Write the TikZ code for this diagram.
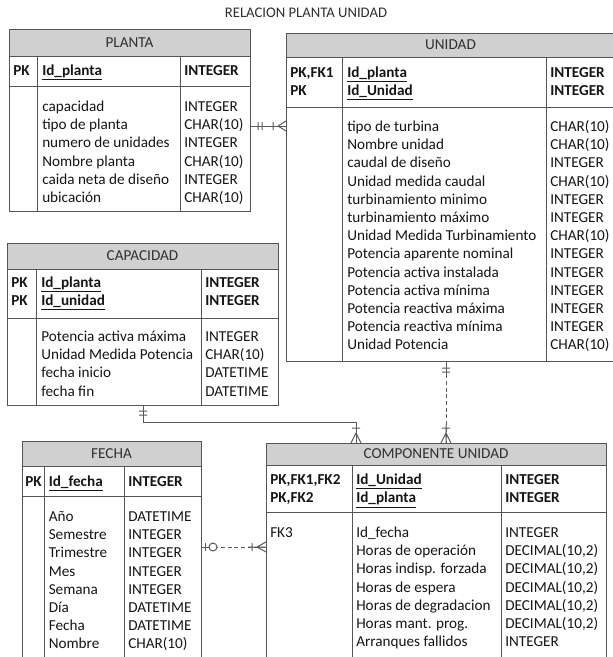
\documentclass[tikz,border=0pt]{standalone}
\usepackage{fontspec}
\setmainfont{Carlito}
\usetikzlibrary{fit,calc}

\definecolor{frame}{HTML}{555555}
\definecolor{headfill}{HTML}{D0D0D0}
\definecolor{linkcol}{HTML}{5A5A5A}
\definecolor{txt}{HTML}{161616}
\definecolor{headtxt}{HTML}{303030}

% One entity box: name, top-left, bottom-right, header bottom y,
% key section bottom y, first divider x, second divider x, title
\newcommand\ertable[8]{%
  \node[fit={(#2) (#3)}, inner sep=0pt, outer sep=0pt] (#1) {};
  \fill[headfill] (#1.north west) rectangle (#1.east |- 0,#4);
  \draw[tableline] (#1.west |- 0,#4) -- (#1.east |- 0,#4)
                   (#1.west |- 0,#5) -- (#1.east |- 0,#5)
                   (#6,#4) -- (#1.south -| #6,0)
                   (#7,#4) -- (#1.south -| #7,0)
                   (#1.north west) rectangle (#1.south east);
  \node[headtext] (#1-head) at ($(#1.north)!0.5!(#1.north |- 0,#4)$) {#8};
}

% A column of entries: name prefix, x, centre y of first row, style, entries
\newcommand\fieldcol[5]{%
  \foreach \t [count=\i] in {#5}
    \node[#4] (#1\i) at (#2, {#3+4.5+(\i-1)*18.2}) {\t};
}

\begin{document}
\begin{tikzpicture}[x=0.75pt, y=-0.75pt,
  tableline/.style={draw=frame, line width=0.75pt},
  headtext/.style={font=\fontsize{11.4}{13.65}\selectfont, text=headtxt, inner sep=0pt},
  fieldtext/.style={font=\fontsize{11.4}{13.65}\selectfont, text=txt, anchor=base west, inner sep=0pt},
  keytext/.style={fieldtext, font=\fontsize{11.4}{13.65}\selectfont\bfseries},
  link/.style={draw=linkcol, line width=0.75pt},
  dashlink/.style={link, dash pattern=on 3pt off 2pt},
  titletext/.style={font=\fontsize{11}{12}\selectfont, text=headtxt, inner sep=0pt}]

\useasboundingbox (0,0) rectangle (613,657);
\clip (0,0) rectangle (613,657);
\fill[white] (0,0) rectangle (613,657);

\node[titletext] (diagram-title) at (306,13) {RELACION PLANTA UNIDAD};

% ---------- PLANTA ----------
\ertable{planta}{9,29}{250,211}{56}{86}{37}{180}{PLANTA}
\fieldcol{planta-pk}{13}{71}{keytext}{PK}
\fieldcol{planta-kn}{42}{71}{keytext}{\underline{Id\_planta}}
\fieldcol{planta-kt}{184}{71}{keytext}{INTEGER}
\fieldcol{planta-f}{42}{107}{fieldtext}{capacidad, tipo de planta, numero de unidades,
  Nombre planta, caida neta de diseño, ubicación}
\fieldcol{planta-t}{184}{107}{fieldtext}{INTEGER, CHAR(10), INTEGER, CHAR(10), INTEGER, CHAR(10)}

% ---------- UNIDAD ----------
\ertable{unidad}{286,33}{615,361}{57}{107}{342}{546}{UNIDAD}
\fieldcol{unidad-pk}{290}{73}{keytext}{{PK,FK1}, PK}
\fieldcol{unidad-kn}{347}{73}{keytext}{\underline{Id\_planta}, \underline{Id\_Unidad}}
\fieldcol{unidad-kt}{550}{73}{keytext}{INTEGER, INTEGER}
\fieldcol{unidad-f}{347}{127}{fieldtext}{tipo de turbina, Nombre unidad, caudal de diseño,
  Unidad medida caudal, turbinamiento minimo, turbinamiento máximo,
  Unidad Medida Turbinamiento, Potencia aparente nominal, Potencia activa instalada,
  Potencia activa mínima, Potencia reactiva máxima, Potencia reactiva mínima,
  Unidad Potencia}
\fieldcol{unidad-t}{550}{127}{fieldtext}{CHAR(10), CHAR(10), INTEGER, CHAR(10), INTEGER,
  INTEGER, CHAR(10), INTEGER, INTEGER, INTEGER, INTEGER, INTEGER, CHAR(10)}

% ---------- CAPACIDAD ----------
\ertable{capacidad}{7,243}{278,405}{269}{318}{36}{201}{CAPACIDAD}
\fieldcol{cap-pk}{11}{283}{keytext}{PK, PK}
\fieldcol{cap-kn}{41}{283}{keytext}{\underline{Id\_planta}, \underline{Id\_unidad}}
\fieldcol{cap-kt}{205}{283}{keytext}{INTEGER, INTEGER}
\fieldcol{cap-f}{41}{337}{fieldtext}{Potencia activa máxima, Unidad Medida Potencia,
  fecha inicio, fecha fin}
\fieldcol{cap-t}{205}{337}{fieldtext}{INTEGER, CHAR(10), DATETIME, DATETIME}

% ---------- FECHA ----------
\ertable{fecha}{22,441}{201,672}{466}{496}{44.5}{124}{FECHA}
\fieldcol{fecha-pk}{25}{482}{keytext}{PK}
\fieldcol{fecha-kn}{48.5}{482}{keytext}{\underline{Id\_fecha}}
\fieldcol{fecha-kt}{128}{482}{keytext}{INTEGER}
\fieldcol{fecha-f}{48.5}{517}{fieldtext}{Año, Semestre, Trimestre, Mes, Semana, Día, Fecha, Nombre}
\fieldcol{fecha-t}{128}{517}{fieldtext}{DATETIME, INTEGER, INTEGER, INTEGER, INTEGER,
  DATETIME, DATETIME, CHAR(10)}

% ---------- COMPONENTE UNIDAD ----------
\ertable{compo}{266,443}{606,672}{465}{512}{352}{501}{COMPONENTE UNIDAD}
\fieldcol{compo-pk}{270}{480}{keytext}{{PK,FK1,FK2}, {PK,FK2}}
\fieldcol{compo-kn}{356}{480}{keytext}{\underline{Id\_Unidad}, \underline{Id\_planta}}
\fieldcol{compo-kt}{505}{480}{keytext}{INTEGER, INTEGER}
\fieldcol{compo-fk}{270}{533}{fieldtext}{FK3}
\fieldcol{compo-f}{356}{533}{fieldtext}{Id\_fecha, Horas de operación, Horas indisp. forzada,
  Horas de espera, Horas de degradacion, Horas mant. prog., Arranques fallidos}
\fieldcol{compo-t}{505}{533}{fieldtext}{INTEGER, {DECIMAL(10,2)}, {DECIMAL(10,2)},
  {DECIMAL(10,2)}, {DECIMAL(10,2)}, {DECIMAL(10,2)}, INTEGER}

% ---------- relationships ----------
% PLANTA (one) -- UNIDAD (one or many)
\draw[link] (planta.east |- 0,126) -- (unidad.west |- 0,126);
\draw[link] (258,122) -- (258,130) (262,122) -- (262,130) (273,122) -- (273,130)
            (278,126) -- (286,121) (278,126) -- (286,131);

% UNIDAD (one) -- COMPONENTE UNIDAD (one or many), non-identifying
\draw[dashlink] (unidad.south -| 446,0) -- (compo.north -| 446,0);
\draw[link] (unidad.south -| 446,0) -- (446,375);
\draw[link] (442,368) -- (450,368) (442,372) -- (450,372) (442,428) -- (450,428)
            (446,425) -- (446,443)
            (446,433) -- (441,443) (446,433) -- (451,443);

% CAPACIDAD (one) -- COMPONENTE UNIDAD (one or many)
\draw[link] (capacidad.south -| 143,0) -- ++(0,17) -| (compo.north -| 356,0);
\draw[link] (139,411) -- (147,411) (139,415) -- (147,415) (352,428) -- (360,428)
            (356,433) -- (351,443) (356,433) -- (361,443);

% FECHA (zero or one) -- COMPONENTE UNIDAD (one or many), non-identifying
\draw[dashlink] (fecha.east |- 0,547) -- (compo.west |- 0,547);
\draw[link] (fecha.east |- 0,547) -- (209,547) (205,543) -- (205,551);
\draw[link, fill=white] (213,547) circle[radius=3pt];
\draw[link] (248,547) -- (266,547) (252,543) -- (252,551)
            (257,547) -- (266,542) (257,547) -- (266,552);

\end{tikzpicture}
\end{document}
